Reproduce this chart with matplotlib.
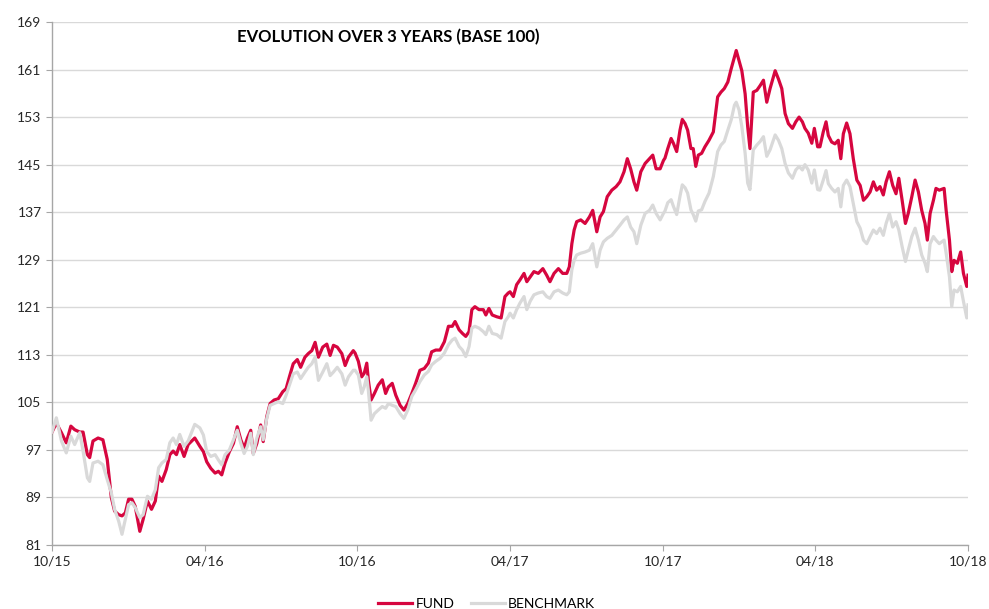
## Fund vs benchmark, 3 year evolution (base 100)

import matplotlib
matplotlib.use("Agg")
import matplotlib.pyplot as plt

# months since 10/2015
months = [
    0.00, 0.17, 0.37, 0.56, 0.74, 0.89, 1.09, 1.22, 1.39, 1.48, 1.61, 1.81, 2.00, 2.17, 2.33, 2.46,
    2.62, 2.75, 2.88, 3.01, 3.14, 3.27, 3.45, 3.58, 3.75, 3.91, 4.06, 4.19, 4.32, 4.49, 4.63, 4.76,
    4.89, 5.02, 5.19, 5.35, 5.61, 5.81,
    5.95, 6.08, 6.24, 6.41, 6.54, 6.67, 6.80, 6.97, 7.13, 7.28, 7.42, 7.55, 7.68, 7.81, 7.91, 8.05,
    8.20, 8.30, 8.44, 8.57, 8.73, 8.89, 9.07, 9.20, 9.33, 9.48, 9.64, 9.77, 9.94, 10.07, 10.21, 10.34,
    10.47, 10.64, 10.80, 10.93, 11.06, 11.21, 11.39, 11.52, 11.65, 11.84,
    11.91, 12.04, 12.17, 12.27, 12.37, 12.43, 12.54, 12.67, 12.82, 12.98, 13.11, 13.22, 13.37, 13.51,
    13.68, 13.83, 13.98, 14.14, 14.29, 14.46, 14.63, 14.79, 14.92, 15.08, 15.25, 15.42, 15.58, 15.73,
    15.84, 16.00, 16.13, 16.26, 16.39, 16.50, 16.62, 16.78, 16.95, 17.05, 17.17, 17.30, 17.48, 17.65,
    17.80, 17.93,
    18.00, 18.13, 18.26, 18.39, 18.55, 18.66, 18.79, 18.94, 19.11, 19.29, 19.44, 19.57, 19.73, 19.90,
    20.07, 20.23, 20.33, 20.43, 20.52, 20.62, 20.78, 20.95, 21.12, 21.25, 21.41, 21.54, 21.67, 21.82,
    22.00, 22.17, 22.32, 22.48, 22.61, 22.74, 22.87, 22.98, 23.14, 23.31, 23.48, 23.61, 23.74, 23.90,
    24.03,
    24.09, 24.20, 24.33, 24.42, 24.55, 24.68, 24.77, 24.88, 24.98, 25.11, 25.20, 25.30, 25.40, 25.53,
    25.66, 25.82, 25.99, 26.16, 26.29, 26.42, 26.56, 26.69, 26.82, 26.89, 27.00, 27.11, 27.24, 27.34,
    27.43, 27.56, 27.70, 27.83, 27.96, 28.09, 28.22, 28.42, 28.55, 28.68, 28.81, 28.94, 29.10, 29.23,
    29.36, 29.49, 29.59, 29.72, 29.86, 29.96, 30.09,
    30.18, 30.31, 30.42, 30.51, 30.64, 30.77, 30.90, 31.00, 31.10, 31.23, 31.36, 31.49, 31.63, 31.76,
    31.89, 32.02, 32.15, 32.28, 32.41, 32.54, 32.67, 32.78, 32.91, 33.04, 33.17, 33.28, 33.41, 33.54,
    33.65, 33.79, 33.92, 34.05, 34.18, 34.31, 34.40, 34.51, 34.64, 34.74, 34.87, 35.06, 35.14, 35.27,
    35.36, 35.45, 35.58, 35.71, 35.82, 35.95, 36.00,
]

fund = [
    100.0, 101.5, 99.9, 98.2, 101.0, 100.4, 100.0, 100.0, 96.2, 95.7, 98.5, 99.0, 98.7, 95.4, 89.0, 86.7,
    86.1, 85.9, 86.4, 88.7, 88.7, 87.5, 83.3, 85.3, 88.4, 87.0, 88.4, 92.6, 91.7, 93.7, 96.2, 96.8,
    96.2, 97.9, 95.9, 97.9, 99.0, 97.6,
    96.7, 95.0, 93.9, 93.1, 93.4, 92.8, 94.8, 96.7, 98.1, 100.9, 98.7, 97.3, 99.0, 100.3, 96.4, 98.1,
    101.2, 98.4, 102.6, 104.8, 105.4, 105.6, 106.8, 107.3, 109.3, 111.5, 112.2, 110.9, 112.6, 113.2, 113.7, 115.1,
    112.6, 114.3, 114.8, 112.9, 114.6, 114.3, 113.2, 111.2, 112.6, 113.7,
    113.3, 111.9, 109.3, 109.9, 111.6, 108.8, 105.4, 106.5, 107.9, 108.8, 106.5, 107.6, 108.2, 106.2,
    104.5, 103.7, 104.8, 106.5, 108.2, 110.4, 110.7, 111.6, 113.5, 113.8, 113.8, 115.2, 117.8, 117.8,
    118.6, 117.2, 116.6, 116.1, 116.9, 120.6, 121.1, 120.6, 120.6, 119.7, 120.8, 119.7, 119.4, 119.2,
    122.8, 123.4,
    123.6, 122.8, 124.8, 125.6, 126.7, 125.3, 126.1, 127.0, 126.7, 127.5, 126.4, 125.3, 126.7, 127.5,
    126.7, 126.7, 127.8, 131.7, 134.0, 135.4, 135.7, 135.1, 136.2, 137.3, 133.7, 136.2, 137.1, 139.6,
    140.7, 141.3, 142.1, 143.8, 146.0, 144.3, 142.1, 140.7, 143.8, 145.2, 146.0, 146.6, 144.3, 144.3,
    145.7,
    146.1, 147.7, 149.4, 148.6, 147.2, 150.8, 152.6, 151.9, 150.8, 147.7, 147.7, 144.7, 146.6, 146.9,
    148.0, 149.1, 150.5, 156.4, 157.2, 157.8, 158.9, 161.1, 163.1, 164.2, 162.5, 160.8, 156.9, 151.4,
    147.7, 157.2, 157.5, 158.3, 159.2, 155.5, 157.8, 160.8, 159.4, 157.8, 153.6, 151.9, 151.1, 152.2,
    153.0, 152.2, 151.1, 150.3, 148.6, 151.1, 148.0,
    148.0, 150.5, 152.2, 149.9, 148.8, 148.5, 149.1, 146.0, 150.2, 152.0, 150.2, 146.0, 142.4, 141.5,
    139.0, 139.6, 140.4, 142.1, 140.7, 141.3, 139.9, 142.1, 143.8, 141.5, 140.1, 142.7, 139.0, 135.1,
    136.8, 139.6, 142.4, 140.4, 137.3, 135.1, 132.3, 136.8, 139.0, 141.0, 140.7, 141.0, 137.3, 132.3,
    127.0, 128.9, 128.4, 130.3, 126.7, 124.5, 126.4,
]

benchmark = [
    100.0, 102.4, 98.5, 96.5, 99.3, 97.9, 99.9, 96.8, 92.3, 91.7, 94.8, 95.1, 94.5, 92.0, 89.8, 87.0,
    85.0, 82.8, 85.3, 87.8, 88.1, 87.3, 85.6, 86.1, 89.2, 88.7, 90.3, 94.0, 94.8, 95.4, 98.2, 99.0,
    97.9, 99.6, 97.6, 98.5, 101.3, 100.7,
    99.5, 96.7, 95.9, 96.2, 95.3, 94.5, 96.2, 97.0, 98.7, 100.3, 98.1, 96.4, 97.6, 99.8, 96.2, 99.0,
    100.9, 98.7, 102.3, 104.5, 104.8, 105.1, 104.8, 106.2, 107.9, 109.8, 110.1, 109.0, 110.1, 110.9, 111.5, 112.6,
    108.7, 110.1, 111.5, 109.5, 110.1, 110.9, 109.8, 107.9, 109.3, 110.4,
    110.4, 109.6, 106.5, 107.6, 109.3, 107.1, 102.0, 103.1, 103.7, 104.3, 104.0, 104.8, 104.5, 104.3,
    103.1, 102.3, 103.7, 106.0, 107.1, 108.5, 109.6, 110.2, 111.3, 111.9, 112.4, 113.3, 114.7, 115.5,
    115.8, 114.4, 113.8, 112.7, 114.4, 117.5, 117.8, 117.5, 116.9, 116.4, 117.8, 116.6, 116.4, 115.8,
    118.6, 119.4,
    120.0, 119.2, 120.6, 121.7, 122.8, 120.6, 122.0, 123.1, 123.4, 123.6, 122.8, 122.5, 123.6, 123.9,
    123.4, 123.1, 123.6, 127.3, 128.9, 129.8, 130.1, 130.3, 130.6, 131.7, 127.8, 130.6, 132.0, 132.6,
    133.1, 134.0, 134.8, 135.7, 136.2, 134.5, 133.7, 131.7, 134.8, 136.8, 137.3, 138.2, 136.8, 135.7,
    136.8,
    137.2, 138.6, 139.1, 138.0, 136.6, 139.7, 141.6, 141.1, 140.2, 137.4, 136.6, 135.5, 137.2, 137.4,
    138.8, 140.2, 143.0, 147.2, 148.3, 148.9, 150.8, 152.5, 155.0, 155.5, 154.2, 151.4, 146.9, 141.9,
    140.8, 147.5, 148.3, 148.9, 149.7, 146.4, 147.5, 150.0, 149.1, 147.7, 145.2, 143.6, 142.7, 144.1,
    144.7, 144.1, 145.0, 144.1, 141.9, 144.1, 140.8,
    140.7, 142.4, 144.0, 141.8, 141.0, 140.4, 141.0, 137.9, 141.5, 142.4, 141.3, 138.5, 135.4, 134.3,
    132.3, 131.7, 132.9, 134.0, 133.4, 134.3, 133.1, 135.1, 136.8, 134.5, 135.4, 134.0, 131.2, 128.7,
    130.6, 132.9, 134.3, 132.3, 129.8, 128.4, 127.0, 131.7, 132.9, 132.3, 131.7, 132.3, 130.1, 126.1,
    121.1, 123.9, 123.6, 124.5, 122.0, 119.2, 121.4,
]

tick_months = [0, 6, 12, 18, 24, 30, 36]
tick_labels = ['10/15', '04/16', '10/16', '04/17', '10/17', '04/18', '10/18']
y_ticks = [81, 89, 97, 105, 113, 121, 129, 137, 145, 153, 161, 169]

plt.rcParams['font.family'] = ['Lato', 'DejaVu Sans']

fig = plt.figure(figsize=(9.89, 6.09), dpi=100)
ax = fig.add_axes([0.0526, 0.1051, 0.9262, 0.8588])

ax.plot(months, fund, color='#D6063F', linewidth=2.3, label='FUND', zorder=3)
ax.plot(months, benchmark, color='#D9D9D9', linewidth=2.3, label='BENCHMARK', zorder=4)

ax.set_xlim(0, 36)
ax.set_ylim(81, 169)
ax.set_xticks(tick_months)
ax.set_xticklabels(tick_labels)
ax.set_yticks(y_ticks)
ax.grid(axis='y', color='#D9D9D9', linewidth=1.0, zorder=0)
ax.set_axisbelow(True)

for s in ['top', 'right']:
    ax.spines[s].set_visible(False)
for s in ['left', 'bottom']:
    ax.spines[s].set_color('#A6A6A6')
    ax.spines[s].set_linewidth(1.0)
ax.tick_params(axis='both', colors='#A6A6A6', labelcolor='#262626', labelsize=10, length=4)

ax.text(0.202, 0.972, 'EVOLUTION OVER 3 YEARS (BASE 100)', transform=ax.transAxes,
        ha='left', va='center', fontsize=12, fontweight='bold', color='#000000')

fig.legend(loc='lower center', ncol=2, frameon=False, bbox_to_anchor=(0.492, -0.022),
           fontsize=10, handlelength=2.45, columnspacing=1.2, handletextpad=0.2)

plt.savefig('out.png', dpi=100)
